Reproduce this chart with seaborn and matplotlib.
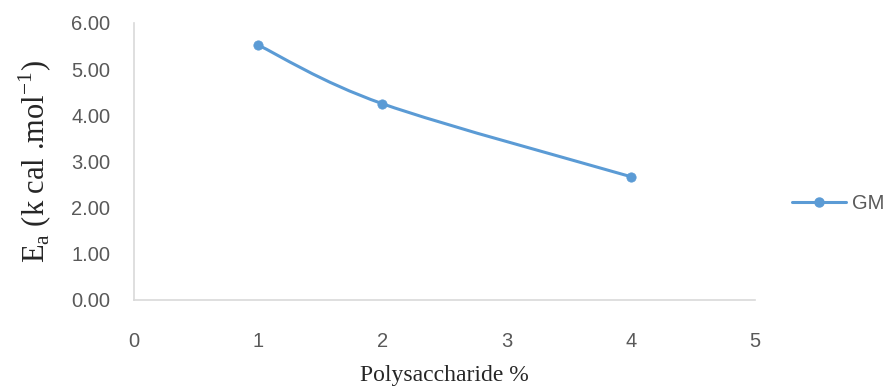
import matplotlib
matplotlib.use("Agg")
import matplotlib.pyplot as plt
import seaborn as sns
import numpy as np
from matplotlib.path import Path
from matplotlib.patches import PathPatch
from matplotlib.lines import Line2D

# data
conc = [1, 2, 4]
ea = [5.52, 4.25, 2.67]
series_name = "GM"
x_ticks = [0, 1, 2, 3, 4, 5]
y_ticks = [0, 1, 2, 3, 4, 5, 6]

blue = "#5B9BD5"
grey = "#595959"

sns.set_style("white")
plt.rcParams["font.family"] = ["Liberation Sans", "DejaVu Sans"]
plt.rcParams["mathtext.fontset"] = "custom"
plt.rcParams["mathtext.rm"] = "Liberation Serif"

fig = plt.figure(figsize=(8.86, 3.87), dpi=100)
ax = fig.add_axes([0.151, 0.225, 0.701, 0.716])

# smoothed line like excel (bezier through the points)
pts = np.column_stack([conc, ea]).astype(float)
n = len(pts)
verts = [pts[0]]
codes = [Path.MOVETO]
for i in range(n - 1):
    p0 = pts[i - 1] if i > 0 else pts[i]
    p1 = pts[i]
    p2 = pts[i + 1]
    p3 = pts[i + 2] if i + 2 < n else pts[i + 1]
    verts += [p1 + (p2 - p0) / 6, p2 - (p3 - p1) / 6, p2]
    codes += [Path.CURVE4] * 3
ax.add_patch(PathPatch(Path(verts, codes), facecolor="none", edgecolor=blue, lw=2.2,
                       capstyle="round", zorder=2))

sns.scatterplot(x=conc, y=ea, ax=ax, color=blue, s=45, edgecolor=blue, zorder=3, legend=False)

ax.set_xlim(0, 5)
ax.set_ylim(0, 6)
ax.set_xticks(x_ticks)
ax.set_yticks(y_ticks)
ax.set_yticklabels([f"{v:.2f}" for v in y_ticks])
ax.tick_params(axis="both", length=0, labelsize=14.5, labelcolor=grey)
ax.tick_params(axis="x", pad=23)
ax.tick_params(axis="y", pad=17)

for s in ["top", "right"]:
    ax.spines[s].set_visible(False)
for s in ["left", "bottom"]:
    ax.spines[s].set_color("#D9D9D9")
    ax.spines[s].set_linewidth(1.2)

ax.set_xlabel("Polysaccharide %", family="Liberation Serif", fontsize=17, color="#262626", labelpad=10)
ax.set_ylabel(r"E$_\mathrm{a}$ (k cal .mol$^{\mathrm{-1}}$)", family="Liberation Serif",
              fontsize=22, color="#262626", labelpad=12)

handle = Line2D([], [], color=blue, lw=2.2, marker="o", markersize=6.5)
ax.legend([handle], [series_name], loc="center left", bbox_to_anchor=(1.03, 0.347),
          frameon=False, fontsize=14.5, labelcolor=grey, handlelength=2.7, handletextpad=0.3)

fig.savefig("out.png", dpi=100)
